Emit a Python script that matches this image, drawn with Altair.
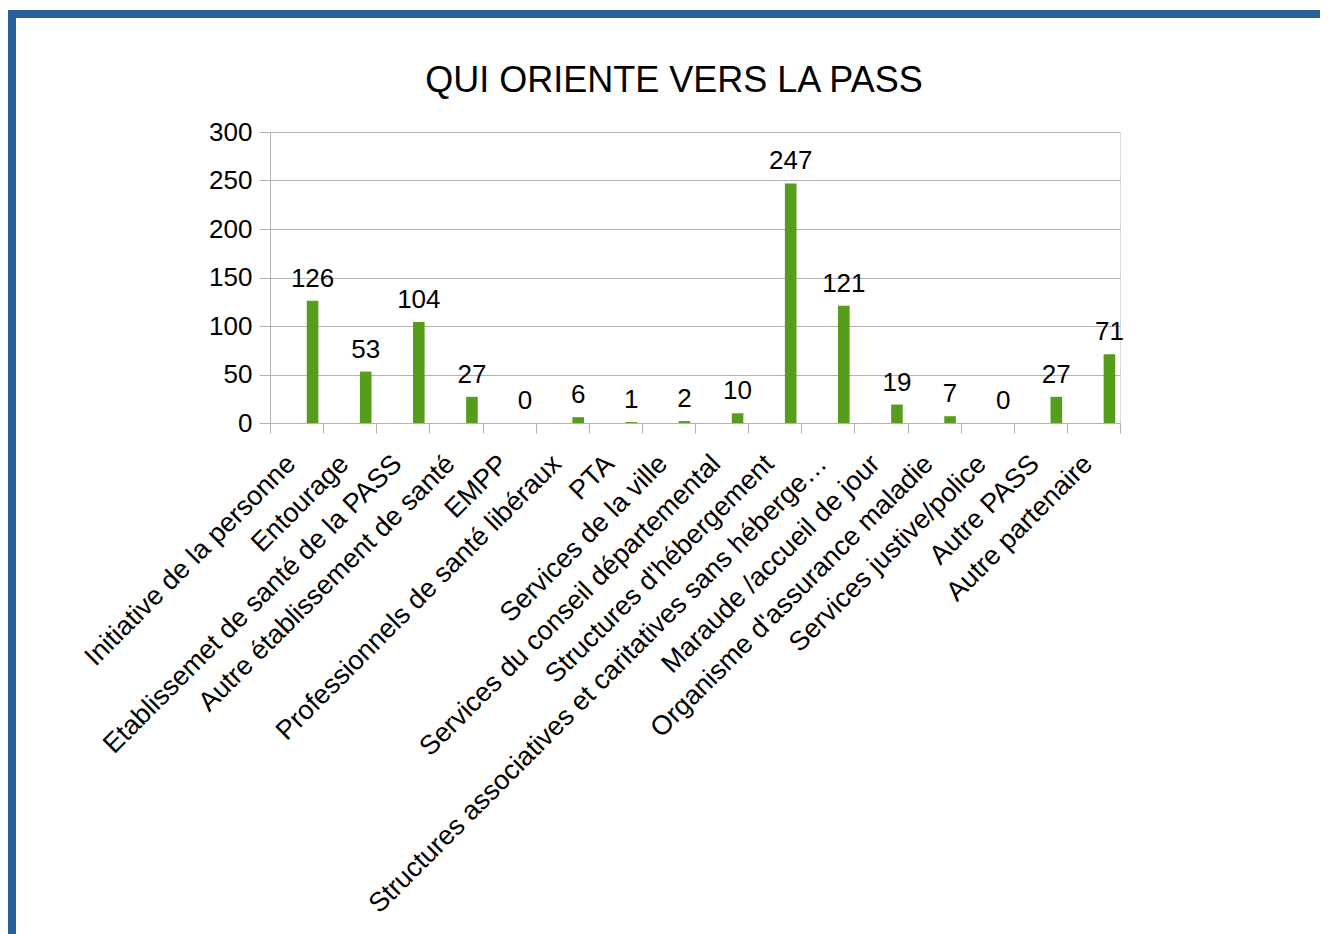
import altair as alt
import pandas as pd

categories = [
    "Initiative de la personne",
    "Entourage",
    "Etablissemet de santé de la PASS",
    "Autre établissement de santé",
    "EMPP",
    "Professionnels de santé libéraux",
    "PTA",
    "Services de la ville",
    "Services du conseil départemental",
    "Structures d'hébergement",
    "Structures associatives et caritatives sans héberge…",
    "Maraude /accueil de jour",
    "Organisme d'assurance maladie",
    "Services justive/police",
    "Autre PASS",
    "Autre partenaire",
]
values = [126, 53, 104, 27, 0, 6, 1, 2, 10, 247, 121, 19, 7, 0, 27, 71]
y_ticks = [0, 50, 100, 150, 200, 250, 300]
title_text = "QUI ORIENTE VERS LA PASS"

df = pd.DataFrame({"cat": categories, "val": values})

GRID = "#b3b3b3"
GREEN = "#579d1c"
BLUE = "#2a6099"
FONT = "Liberation Sans"

x_enc = alt.X(
    "cat:N",
    sort=categories,
    title=None,
    scale=alt.Scale(paddingInner=0, paddingOuter=0),
    axis=alt.Axis(
        labelAngle=-45,
        labelAlign="right",
        labelBaseline="alphabetic",
        labelPadding=32,
        labelLimit=0,
        labelFontSize=27,
        labelColor="black",
        labelFont=FONT,
        tickBand="extent",
        tickSize=10,
        tickColor=GRID,
        domainColor=GRID,
        grid=False,
        labelOverlap=False,
    ),
)
y_enc = alt.Y(
    "val:Q",
    title=None,
    scale=alt.Scale(domain=[0, 300], nice=False, zero=True),
    axis=alt.Axis(
        values=y_ticks,
        tickSize=11,
        tickColor=GRID,
        domainColor=GRID,
        gridColor=GRID,
        labelPadding=7,
        labelFontSize=26,
        labelColor="black",
        labelFont=FONT,
    ),
)

base = alt.Chart(df)
bars = base.mark_bar(color=GREEN, width=11.6, xOffset=16).encode(x=x_enc, y=y_enc)
labels = base.mark_text(
    xOffset=16, dy=-14, baseline="alphabetic", fontSize=26, font=FONT, color="black"
).encode(x=x_enc, y=y_enc, text="val:Q")

frame = alt.Chart(pd.DataFrame({"a": [0]}))
top_border = frame.mark_rule(color=BLUE, strokeWidth=8).encode(
    x=alt.value(-262), x2=alt.value(1050), y=alt.value(-118)
)
left_border = frame.mark_rule(color=BLUE, strokeWidth=8).encode(
    x=alt.value(-258), y=alt.value(-122), y2=alt.value(802)
)
title = frame.mark_text(
    text=title_text, fontSize=36, font=FONT, color="black",
    align="center", baseline="alphabetic",
).encode(x=alt.value(404), y=alt.value(-40))

chart = (
    alt.layer(bars, labels, top_border, left_border, title)
    .properties(
        width=850,
        height=291,
        autosize=alt.AutoSizeParams(type="none"),
        padding={"left": 262, "top": 124, "right": 200, "bottom": 511},
    )
    .configure_view(stroke=GRID)
    .configure(background="white")
)

chart.save("out.html", embed_options={"renderer": "svg", "actions": False})
